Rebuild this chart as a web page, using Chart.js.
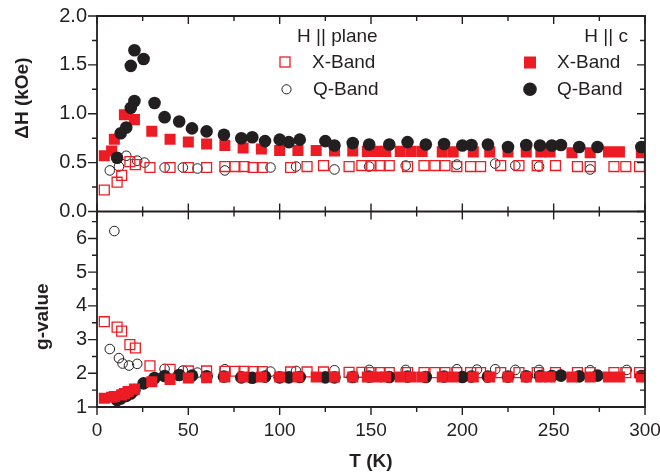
<!DOCTYPE html>
<html>
<head>
<meta charset="utf-8">
<script src="https://cdn.jsdelivr.net/npm/chart.js@4.4.1/dist/chart.umd.min.js"></script>
<style>
  html, body { margin: 0; padding: 0; background: #fff; }
</style>
</head>
<body>
<canvas id="canvas-esr" width="660" height="476"></canvas>
<script>
// axis ticks
const tTicks = [0, 50, 100, 150, 200, 250, 300];
const dHTicks = [0, 0.5, 1.0, 1.5, 2.0];
const gTicks = [1, 2, 3, 4, 5, 6];

// H || plane, X-Band (open squares)
const tXPlane = [4, 11, 13.5, 18, 21, 29, 40, 50, 60, 70, 75.5, 80.5, 85.5, 90.5, 106, 115, 124, 138, 145, 150,
  155, 160, 170, 179, 185, 190.5, 197, 204.5, 210, 221, 231, 241, 251, 263, 270, 283, 289.5, 297];
const dHXPlane = [0.22, 0.30, 0.37, 0.51, 0.48, 0.45, 0.45, 0.45, 0.45, 0.46, 0.46, 0.46, 0.45, 0.45, 0.45, 0.46, 0.47, 0.46, 0.47, 0.47,
  0.47, 0.47, 0.46, 0.47, 0.47, 0.47, 0.46, 0.46, 0.46, 0.47, 0.47, 0.47, 0.47, 0.46, 0.46, 0.46, 0.46, 0.46];
const gXPlane = [3.53, 3.37, 3.25, 2.85, 2.75, 2.22, 2.12, 2.07, 2.07, 2.06, 2.06, 2.06, 2.05, 2.05, 2.04, 2.04, 2.04, 2.03, 2.03, 2.02,
  2.02, 2.02, 2.02, 2.02, 2.02, 2.02, 2.02, 2.02, 2.02, 2.02, 2.02, 2.02, 2.02, 2.02, 2.02, 2.02, 2.02, 2.02];

// H || plane, Q-Band (open circles)
const tQPlane = [7, 9.5, 12, 14, 16, 17.5, 22, 26, 37, 47, 55, 70, 95, 109, 130, 149, 169, 197, 208, 218, 229, 242, 270, 290];
const dHQPlane = [0.42, null, 0.46, null, 0.57, null, 0.52, 0.50, 0.45, 0.45, 0.44, 0.42, 0.45, 0.46, 0.43, 0.46, 0.47, 0.48, null, 0.49, 0.47, 0.46, 0.43, null];
const gQPlane = [2.72, 6.22, 2.45, 2.29, null, 2.23, 2.28, null, 2.13, 2.08, 2.02, 2.12, 2.05, 2.07, 2.09, 2.10, 2.10, 2.12, 2.11, 2.12, 2.10, 2.10, 2.09, 2.10];

// H || c, X-Band (filled squares)
const tXC = [4, 8, 9.5, 13.5, 15, 17, 20.5, 30, 40, 50, 60, 70, 80, 90, 100, 110, 120, 130, 140, 148,
  153, 158, 166, 172, 178, 189, 195, 206, 215, 225, 235, 243, 248, 260, 270, 280, 286, 298];
const dHXC = [0.57, 0.62, 0.74, null, 0.99, null, 0.94, 0.82, 0.74, 0.71, 0.69, 0.675, 0.65, 0.64, 0.625, 0.625, 0.625, 0.62, 0.62, 0.615,
  0.615, 0.615, 0.615, 0.615, 0.615, 0.61, 0.61, 0.61, 0.61, 0.61, 0.61, 0.61, 0.61, 0.60, 0.60, 0.61, 0.61, 0.60];
const gXC = [1.26, 1.29, 1.31, 1.36, 1.40, 1.46, 1.53, 1.75, 1.82, 1.86, 1.87, 1.89, 1.89, 1.89, 1.89, 1.89, 1.89, 1.89, 1.89, 1.89,
  1.89, 1.89, 1.89, 1.89, 1.89, 1.89, 1.89, 1.89, 1.89, 1.89, 1.89, 1.89, 1.89, 1.89, 1.89, 1.89, 1.89, 1.89];

// H || c, Q-Band (filled circles)
const tQC = [11, 13, 16, 18.5, 18.5, 20.5, 20.5, 25.5, 31.5, 37, 45, 52, 60, 69.5, 79, 85, 92, 100, 105, 111,
  125, 130, 140, 149, 160, 170, 180, 190, 200, 205, 214, 225, 235, 242.5, 249, 254, 264, 274, 298];
const dHQC = [0.55, 0.80, 0.86, 1.06, 1.49, 1.65, 1.13, 1.56, 1.11, 0.965, 0.92, 0.85, 0.82, 0.785, 0.75, 0.76, 0.72, 0.735, 0.71, 0.735,
  0.72, 0.675, 0.70, 0.685, 0.685, 0.71, 0.685, 0.69, 0.675, 0.68, 0.685, 0.66, 0.68, 0.675, 0.675, 0.68, 0.66, 0.66, 0.66];
const gQC = [1.21, 1.25, 1.33, 1.40, null, null, 1.50, 1.70, 1.86, 1.92, 1.95, 1.93, 1.91, 1.90, 1.88, 1.87, 1.90, 1.88, 1.88, 1.89,
  1.88, 1.88, 1.89, 1.90, 1.89, 1.90, 1.89, 1.90, 1.89, 1.90, 1.90, 1.90, 1.91, 1.92, 1.92, 1.93, 1.91, 1.93, 1.92];

const ink = '#231f20';
const red = '#ed1c24';
const none = 'rgba(0,0,0,0)';
const fontFamily = '"Liberation Sans", Arial, Helvetica, sans-serif';

const pts = (ts, vs) => ts.map((t, i) => ({x: t, y: vs[i]})).filter(p => p.y !== null);

const openSquare = {pointStyle: 'rect', pointRadius: 7, pointBackgroundColor: none, pointBorderColor: red, pointBorderWidth: 1.3};
const openCircle = {pointStyle: 'circle', pointRadius: 4.8, pointBackgroundColor: none, pointBorderColor: ink, pointBorderWidth: 1};
const fullSquare = {pointStyle: 'rect', pointRadius: 7.8, pointBackgroundColor: red, pointBorderColor: red, pointBorderWidth: 0};
const fullCircle = {pointStyle: 'circle', pointRadius: 6.3, pointBackgroundColor: ink, pointBorderColor: ink, pointBorderWidth: 0};

// frame, inner/outer ticks, y titles and the legend block
const framePlugin = {
  id: 'frame',
  afterDraw(chart) {
    const ctx = chart.ctx;
    const xs = chart.scales.x, yH = chart.scales.yH, yG = chart.scales.yG;
    const left = xs.left, right = xs.right;
    const top = yH.top, mid = yH.bottom, bottom = yG.bottom;
    const seg = (x1, y1, x2, y2) => { ctx.moveTo(x1, y1); ctx.lineTo(x2, y2); };

    ctx.save();
    ctx.strokeStyle = ink;
    ctx.lineWidth = 1.8;
    ctx.beginPath();
    ctx.rect(left, top, right - left, bottom - top);
    seg(left, mid, right, mid);
    ctx.stroke();

    ctx.lineWidth = 1.4;
    ctx.beginPath();
    for (let v = xs.min; v <= xs.max; v += 25) {
      const px = xs.getPixelForValue(v);
      const len = v % 50 === 0 ? 8 : 5;
      seg(px, top, px, top + len);
      seg(px, mid - len, px, mid + len);
      seg(px, bottom, px, bottom + len);
    }
    [[yH, 0.25, 0.5], [yG, 0.5, 1]].forEach(([s, minor, major]) => {
      for (let v = s.min; v <= s.max + 1e-9; v += minor) {
        const py = s.getPixelForValue(v);
        const isMajor = Math.abs(v / major - Math.round(v / major)) < 1e-6;
        seg(left - (isMajor ? 9 : 5), py, left, py);
        seg(right, py, right - (isMajor ? 8 : 5), py);
      }
    });
    ctx.stroke();

    // y axis titles
    ctx.fillStyle = ink;
    ctx.font = 'bold 19px ' + fontFamily;
    ctx.textAlign = 'center';
    ctx.textBaseline = 'alphabetic';
    [['\u0394H (kOe)', 28, yH.getPixelForValue(1.16)], ['g-value', 48, yG.getPixelForValue(3.68)]].forEach(([txt, x, y]) => {
      ctx.save();
      ctx.translate(x, y);
      ctx.rotate(-Math.PI / 2);
      ctx.fillText(txt, 0, 0);
      ctx.restore();
    });

    // legend
    ctx.font = '19px ' + fontFamily;
    ctx.textAlign = 'left';
    ctx.fillText('H || plane', 297, 42);
    ctx.fillText('X-Band', 312, 68);
    ctx.fillText('Q-Band', 313, 95);
    ctx.textAlign = 'right';
    ctx.fillText('H || c', 628, 42);
    ctx.textAlign = 'left';
    ctx.fillText('X-Band', 557, 68);
    ctx.fillText('Q-Band', 557, 95);

    ctx.strokeStyle = red;
    ctx.lineWidth = 1.3;
    ctx.strokeRect(280, 57, 10, 10);
    ctx.strokeStyle = ink;
    ctx.lineWidth = 1;
    ctx.beginPath();
    ctx.arc(286.5, 89.3, 4.6, 0, Math.PI * 2);
    ctx.stroke();
    ctx.fillStyle = red;
    ctx.fillRect(524, 56.5, 12, 12);
    ctx.fillStyle = ink;
    ctx.beginPath();
    ctx.arc(530, 89.3, 6.8, 0, Math.PI * 2);
    ctx.fill();
    ctx.restore();
  }
};

const tickFont = {family: fontFamily, size: 20};

new Chart(document.getElementById('canvas-esr'), {
  type: 'scatter',
  data: {
    datasets: [
      // upper panel: first listed is drawn on top
      {label: 'Q-Band H || c', data: pts(tQC, dHQC), yAxisID: 'yH', ...fullCircle},
      {label: 'X-Band H || c', data: pts(tXC, dHXC), yAxisID: 'yH', ...fullSquare},
      {label: 'X-Band H || plane', data: pts(tXPlane, dHXPlane), yAxisID: 'yH', ...openSquare},
      {label: 'Q-Band H || plane', data: pts(tQPlane, dHQPlane), yAxisID: 'yH', ...openCircle},
      // lower panel
      {label: 'X-Band H || c', data: pts(tXC, gXC), yAxisID: 'yG', ...fullSquare},
      {label: 'Q-Band H || c', data: pts(tQC, gQC), yAxisID: 'yG', ...fullCircle},
      {label: 'X-Band H || plane', data: pts(tXPlane, gXPlane), yAxisID: 'yG', ...openSquare},
      {label: 'Q-Band H || plane', data: pts(tQPlane, gQPlane), yAxisID: 'yG', ...openCircle}
    ]
  },
  options: {
    responsive: false,
    animation: false,
    events: [],
    layout: {padding: {top: 16, right: 15, left: 0, bottom: 0}},
    plugins: {legend: {display: false}, tooltip: {enabled: false}},
    scales: {
      x: {
        type: 'linear', position: 'bottom', min: 0, max: 300,
        grid: {display: false, drawTicks: false}, border: {display: false},
        afterBuildTicks: s => { s.ticks = tTicks.map(v => ({value: v})); },
        ticks: {color: ink, font: {family: fontFamily, size: 19}, padding: 12, autoSkip: false, maxRotation: 0},
        title: {display: true, text: 'T (K)', color: ink, font: {family: fontFamily, size: 19, weight: 'bold'}, padding: {top: 0, bottom: 3}},
        afterFit: s => { s.height = 69; s.paddingLeft = 0; s.paddingRight = 0; }
      },
      yG: {
        type: 'linear', position: 'left', stack: 'panels', stackWeight: 1, min: 1, max: 6.8,
        grid: {display: false, drawTicks: false}, border: {display: false},
        afterBuildTicks: s => { s.ticks = gTicks.map(v => ({value: v})); },
        ticks: {color: ink, font: tickFont, padding: 10, autoSkip: false, callback: v => String(v)},
        afterFit: s => { s.width = 97; s.paddingTop = 0; s.paddingBottom = 0; }
      },
      yH: {
        type: 'linear', position: 'left', stack: 'panels', stackWeight: 1, min: 0, max: 2,
        grid: {display: false, drawTicks: false}, border: {display: false},
        afterBuildTicks: s => { s.ticks = dHTicks.map(v => ({value: v})); },
        ticks: {color: ink, font: tickFont, padding: 10, autoSkip: false, callback: v => v.toFixed(1)},
        afterFit: s => { s.width = 97; s.paddingTop = 0; s.paddingBottom = 0; }
      }
    }
  },
  plugins: [framePlugin]
});
</script>
</body>
</html>
